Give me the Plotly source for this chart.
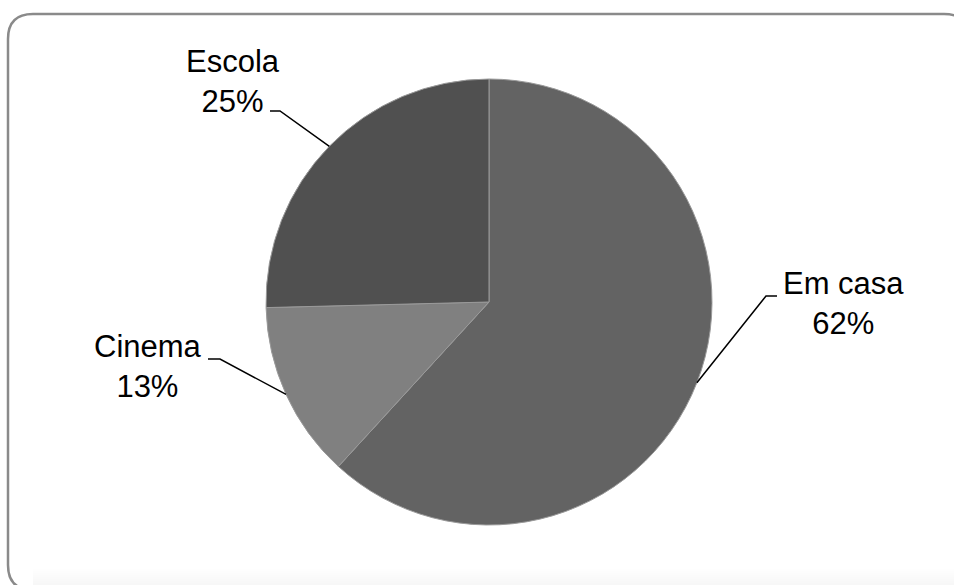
import math
import plotly.graph_objects as go

# ---- data ----
labels = ["Em casa", "Cinema", "Escola"]
values = [61.8, 12.8, 25.4]
colors = ["#636363", "#808080", "#505050"]

# ---- layout constants (pixels) ----
W, H = 954, 585
CX, CY, R = 489, 302, 223
FONT = dict(family="Liberation Sans, Arial, sans-serif", size=31, color="#000000")

# label placement: (elbow point, horizontal end point, text centre)
label_layout = {
    "Em casa": ((766, 296), (777, 296), (843, 303)),
    "Cinema": ((220, 359), (208, 359), (148, 366)),
    "Escola": ((280, 111), (270, 111), (233, 82)),
}


def px(x):
    return x / W


def py(y):
    return 1 - y / H


fig = go.Figure(
    go.Pie(
        labels=labels,
        values=values,
        sort=False,
        direction="clockwise",
        rotation=0,
        marker=dict(colors=colors, line=dict(color="#9a9a9a", width=1)),
        textinfo="none",
        hoverinfo="label+percent",
        showlegend=False,
        domain=dict(x=[px(CX - R), px(CX + R)], y=[py(CY + R), py(CY - R)]),
    )
)

shapes = []
annotations = []
total = sum(values)
cum = 0.0
for lab, v in zip(labels, values):
    mid = (cum + v / 2) / total * 2 * math.pi
    cum += v
    ex = CX + R * math.sin(mid)
    ey = CY - R * math.cos(mid)
    (elx, ely), (hx, hy), (tx, ty) = label_layout[lab]
    path = f"M {px(ex)},{py(ey)} L {px(elx)},{py(ely)} L {px(hx)},{py(hy)}"
    shapes.append(dict(type="path", xref="paper", yref="paper", path=path,
                       line=dict(color="#000000", width=1.5)))
    pct = round(v / total * 100)
    annotations.append(dict(x=px(tx), y=py(ty), xref="paper", yref="paper",
                            text=f"{lab}<br>{pct}%", showarrow=False,
                            font=FONT, align="center",
                            xanchor="center", yanchor="middle"))

# rounded frame
x0, y0, x1, y1, r = 8, 14, 969, 590, 25
frame = (f"M {px(x0 + r)},{py(y0)} L {px(x1 - r)},{py(y0)} "
         f"Q {px(x1)},{py(y0)} {px(x1)},{py(y0 + r)} "
         f"L {px(x1)},{py(y1 - r)} Q {px(x1)},{py(y1)} {px(x1 - r)},{py(y1)} "
         f"L {px(x0 + r)},{py(y1)} Q {px(x0)},{py(y1)} {px(x0)},{py(y1 - r)} "
         f"L {px(x0)},{py(y0 + r)} Q {px(x0)},{py(y0)} {px(x0 + r)},{py(y0)} Z")
# soft bottom shadow (very faint gradient)
for i in range(8):
    shapes.insert(0, dict(type="rect", xref="paper", yref="paper", layer="below",
                          x0=px(x0 + 25), x1=px(W), y0=py(H), y1=py(H - 16 + i * 2),
                          line=dict(width=0), fillcolor="rgba(0,0,0,0.005)"))
shapes.append(dict(type="path", xref="paper", yref="paper", path=frame,
                   line=dict(color="#8a8a8a", width=2.5), layer="below"))

fig.update_layout(
    width=W, height=H,
    margin=dict(l=0, r=0, t=0, b=0),
    paper_bgcolor="#ffffff", plot_bgcolor="#ffffff",
    shapes=shapes, annotations=annotations,
)

fig.write_html("out.html", config={"displayModeBar": False},
               post_script="document.body.style.margin='0';document.body.style.overflow='hidden';")
